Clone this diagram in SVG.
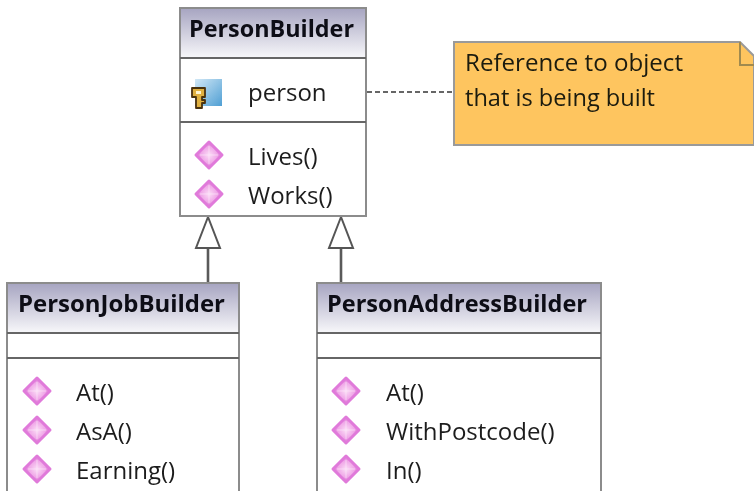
<svg xmlns="http://www.w3.org/2000/svg" width="754" height="491" viewBox="0 0 754 491">
<style>
text{font-family:"Open Sans","Noto Sans","Liberation Sans",sans-serif;fill:#1c1c1c}
.t{font-size:23.5px;font-weight:700;fill:#0c0c14}
.m{font-size:24px}
.n{font-size:24px;fill:#1a1a10}
.b{fill:#fff;stroke:#8c8c8c;stroke-width:2}
.h{fill:url(#hg)}
.l{stroke:#666;stroke-width:2;fill:none}
.s{stroke:#5a5a5a;stroke-width:2.6;fill:none}
.a{fill:#fff;stroke:#555;stroke-width:2}
</style>
<defs>
<filter id="soft" x="-5%" y="-5%" width="110%" height="110%"><feGaussianBlur stdDeviation="0.45"/></filter>
<linearGradient id="hg" x1="0" y1="0" x2="0" y2="1"><stop offset="0" stop-color="#a8a6c2"/><stop offset="1" stop-color="#f6f6f9"/></linearGradient>
<radialGradient id="dg" cx=".5" cy=".5" r=".6"><stop offset="0" stop-color="#fbdcf6"/><stop offset=".5" stop-color="#f0a8e8"/><stop offset="1" stop-color="#d25ccc"/></radialGradient>
<linearGradient id="fg" x1="0" y1="0" x2="1" y2="1"><stop offset="0" stop-color="#d2e8f6"/><stop offset="1" stop-color="#4f9fd4"/></linearGradient>
<g id="d"><path d="M0-13 13 0 0 13-13 0Z" fill="url(#dg)" stroke="#e07ada" stroke-width="3" stroke-linejoin="round"/><path d="M0-9V9M-9 0H9" stroke="#fbe6f8" stroke-width="1" opacity=".7"/></g>
</defs>
<g filter="url(#soft)">
<g id="connectors">
<path class="l" d="M367 92H454" stroke-dasharray="5 3"/>
<path class="s" d="M208 248V283M341 248V283"/>
<path class="a" d="M208 217 196 248H220Z"/>
<path class="a" d="M341 217 329 248H353Z"/>
</g>
<g id="PersonBuilder">
<rect class="b" x="180" y="8" width="186" height="208"/>
<rect class="h" x="181" y="9" width="184" height="48"/>
<path class="l" d="M180 58H366M180 122H366"/>
<text class="t" x="189" y="37" textLength="165" lengthAdjust="spacingAndGlyphs">PersonBuilder</text>
<rect x="195" y="79" width="27" height="27" fill="url(#fg)"/>
<path d="M192 88H205V97H202V100H205V103H202V108H196V97H192Z" fill="#e0b040" stroke="#4a3010" stroke-width="1.8" stroke-linejoin="round"/>
<rect x="196" y="91" width="5" height="3" fill="#fff4d0"/>
<text class="m" x="248" y="101">person</text>
<use href="#d" x="209" y="155"/>
<text class="m" x="248" y="165">Lives()</text>
<use href="#d" x="209" y="194"/>
<text class="m" x="248" y="204">Works()</text>
</g>
<g id="note">
<path d="M454 42H740L754 56V145H454Z" fill="#fec55f" stroke="#9a9a9a" stroke-width="2"/>
<path d="M740 42V65H754" fill="none" stroke="#a08a50" stroke-width="2"/>
<text class="n" x="465" y="71" textLength="218" lengthAdjust="spacingAndGlyphs">Reference to object</text>
<text class="n" x="465" y="106" textLength="190" lengthAdjust="spacingAndGlyphs">that is being built</text>
</g>
<g id="PersonJobBuilder">
<path class="b" d="M7 495V283H239V495"/>
<rect class="h" x="8" y="284" width="230" height="48"/>
<path class="l" d="M7 333H239M7 358H239"/>
<text class="t" x="18" y="312" textLength="207" lengthAdjust="spacingAndGlyphs">PersonJobBuilder</text>
<use href="#d" x="37" y="391"/>
<text class="m" x="76" y="401">At()</text>
<use href="#d" x="37" y="430"/>
<text class="m" x="76" y="440">AsA()</text>
<use href="#d" x="37" y="469"/>
<text class="m" x="76" y="479">Earning()</text>
</g>
<g id="PersonAddressBuilder">
<path class="b" d="M317 495V283H601V495"/>
<rect class="h" x="318" y="284" width="282" height="48"/>
<path class="l" d="M317 333H601M317 358H601"/>
<text class="t" x="327" y="312" textLength="260" lengthAdjust="spacingAndGlyphs">PersonAddressBuilder</text>
<use href="#d" x="346" y="391"/>
<text class="m" x="386" y="401">At()</text>
<use href="#d" x="346" y="430"/>
<text class="m" x="386" y="440">WithPostcode()</text>
<use href="#d" x="346" y="469"/>
<text class="m" x="386" y="479">In()</text>
</g>
</g>
</svg>
